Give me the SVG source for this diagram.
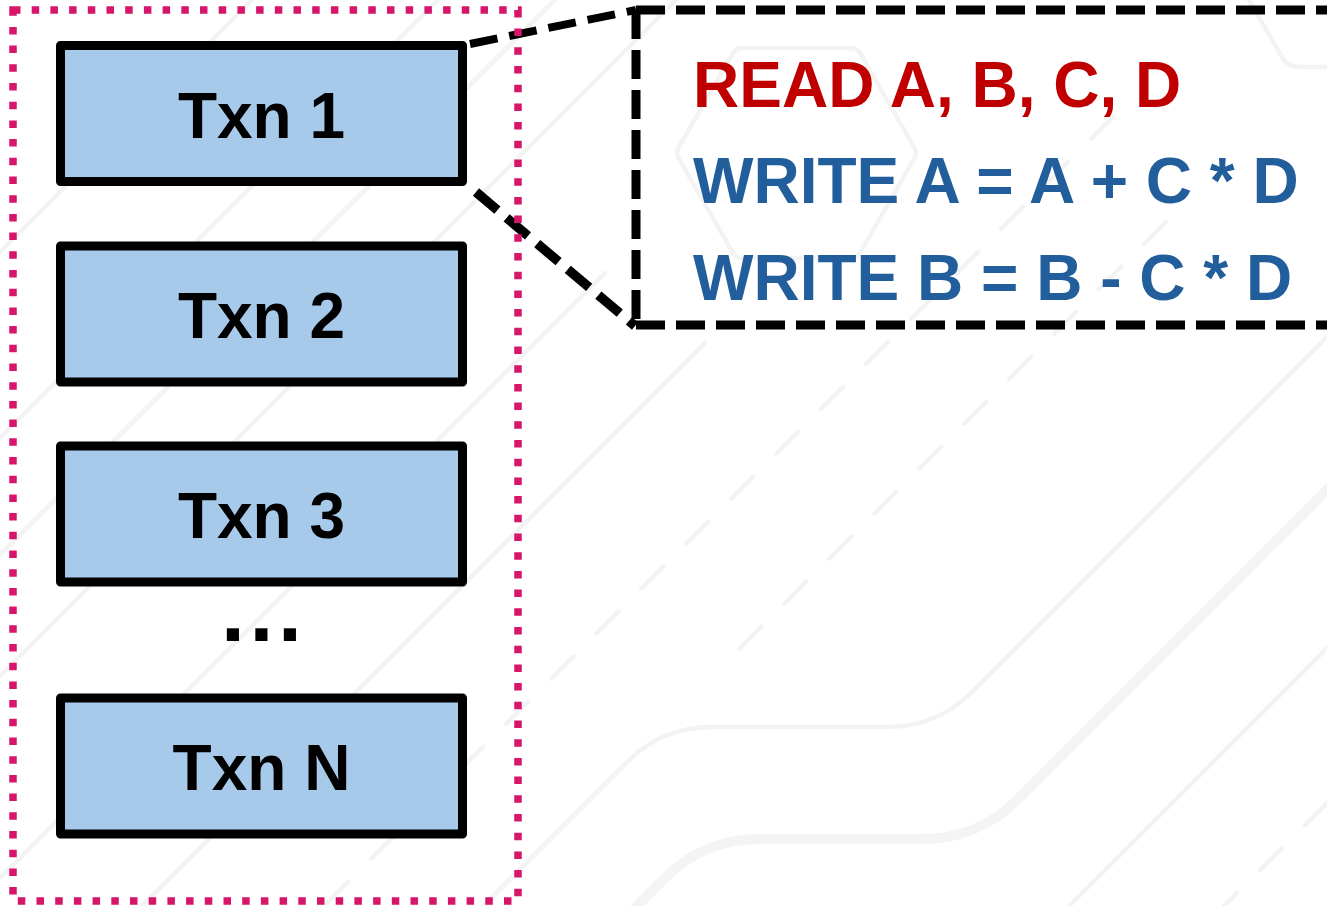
<svg xmlns="http://www.w3.org/2000/svg" width="1327" height="906" viewBox="0 0 1327 906">
  <style>
    .bg { fill: none; stroke: #f3f3f3; stroke-width: 4.5; stroke-linecap: round; stroke-linejoin: round; }
    .bg-thick { fill: none; stroke: #f4f4f4; stroke-width: 10; stroke-linecap: round; }
    .bg-dash { fill: none; stroke: #f3f3f3; stroke-width: 4.5; stroke-linecap: round; stroke-dasharray: 31 32.6; }
    .group-border { fill: none; stroke: #d6156b; stroke-width: 7.5; stroke-dasharray: 7.5 11.2; }
    .txn rect { fill: #a7caeb; stroke: #000; stroke-width: 9; stroke-linejoin: round; }
    .txn text, .ellipsis { font-family: "Liberation Sans", Arial, sans-serif; font-weight: bold; fill: #000; }
    .txn text { font-size: 64px; text-anchor: middle; }
    .callout-edge { fill: none; stroke: #000; stroke-width: 9; stroke-dasharray: 29 11; }
    .conn { fill: none; stroke: #000; stroke-dasharray: 28 12; }
    .code { font-family: "Liberation Sans", Arial, sans-serif; font-weight: bold; font-size: 64px; }
    .read { fill: #c00000; }
    .write { fill: #215e9b; }
  </style>

  <rect width="1327" height="906" fill="#ffffff"/>

  <!-- faint background pattern -->
  <g id="background">
    <line class="bg" x1="252" y1="0" x2="0" y2="252"/>
    <line class="bg" x1="438" y1="0" x2="0" y2="438"/>
    <line class="bg" x1="555" y1="0" x2="0" y2="555"/>
    <line class="bg" x1="676" y1="0" x2="0" y2="676"/>
    <line class="bg" x1="605" y1="273" x2="0" y2="878"/>
    <line class="bg" x1="705" y1="343" x2="141" y2="907"/>
    <line class="bg-dash" x1="1113" y1="117" x2="324" y2="906"/>
    <line class="bg-dash" x1="1166" y1="222" x2="735" y2="653"/>
    <path class="bg" d="M1330,334 L972,692 Q937,727 887,727 L712,727 Q662,727 627,762 L483,906"/>
    <path class="bg-thick" d="M1330,487 L1017,800 Q978,839 922,839 L760,839 Q704,839 665,878 L634,909"/>
    <line class="bg" x1="1330" y1="645" x2="1069" y2="906"/>
    <line class="bg-dash" x1="1327" y1="803" x2="1224" y2="906"/>
    <path class="bg" d="M742,48 L851,48 Q857,48 860,53 L914.5,148 Q917.5,153 914.5,158 L860,253 Q857,258 851,258 L742,258 Q736,258 733,253 L678.5,158 Q675.5,153 678.5,148 L733,53 Q736,48 742,48 Z"/>
    <path class="bg" d="M1249,0 L1282,57 Q1288,67 1300,67 L1330,67"/>
  </g>

  <!-- connectors from Txn 1 to its operation list -->
  <g id="connectors">
    <line class="conn" stroke-width="8" x1="470" y1="44" x2="636" y2="10"/>
    <line class="conn" stroke-width="9.5" x1="476" y1="192" x2="635" y2="326"/>
  </g>

  <!-- transaction batch -->
  <g id="batch">
    <rect class="group-border" x="13" y="10" width="505" height="891"/>
  </g>

  <g id="txn1" class="txn">
    <rect x="60.5" y="45.5" width="402" height="136"/>
    <text x="261.5" y="137.5">Txn 1</text>
  </g>
  <g id="txn2" class="txn">
    <rect x="60.5" y="246" width="402" height="136"/>
    <text x="261.5" y="338">Txn 2</text>
  </g>
  <g id="txn3" class="txn">
    <rect x="60.5" y="446" width="402" height="136"/>
    <text x="261.5" y="538">Txn 3</text>
  </g>
  <g id="more">
    <text class="ellipsis" x="221" y="641" font-size="86" letter-spacing="4.6">...</text>
  </g>
  <g id="txnN" class="txn">
    <rect x="60.5" y="698" width="402" height="136"/>
    <text x="261.5" y="790">Txn N</text>
  </g>

  <!-- operations of Txn 1 -->
  <g id="txn1-ops">
    <line class="callout-edge" x1="636" y1="10" x2="1340" y2="10"/>
    <line class="callout-edge" x1="636" y1="10" x2="636" y2="325"/>
    <line class="callout-edge" x1="636" y1="325" x2="1340" y2="325"/>
    <text class="code read" x="693" y="107">READ A, B, C, D</text>
    <text class="code write" x="693" y="203">WRITE A = A + C * D</text>
    <text class="code write" x="693" y="300">WRITE B = B - C * D</text>
  </g>
</svg>
